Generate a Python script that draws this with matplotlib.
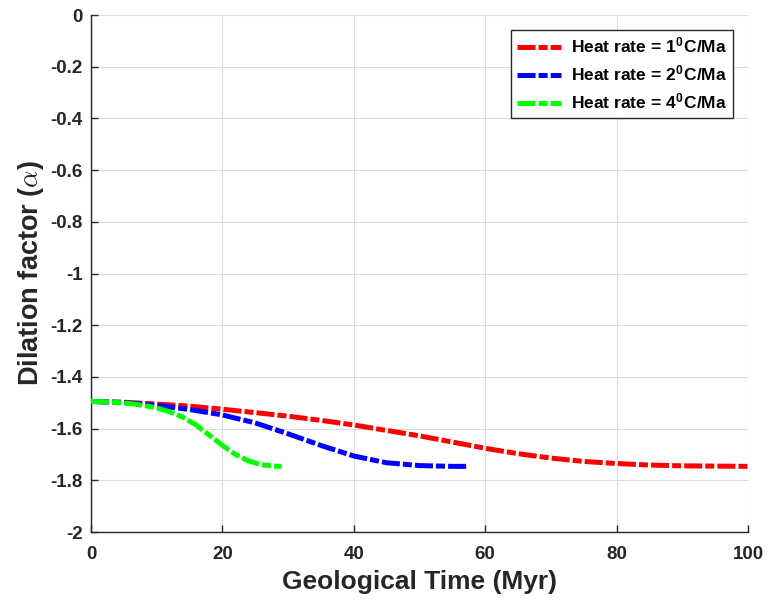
import matplotlib
matplotlib.use('Agg')
import matplotlib.pyplot as plt

# dilation factor vs geological time for three heating rates
t_1 = [0, 5, 10, 15, 20, 25, 30, 35, 40, 45, 50, 55, 60, 65, 70, 75, 80, 85, 90, 95, 100]
a_1 = [-1.495, -1.498, -1.505, -1.513, -1.525, -1.538, -1.552, -1.568, -1.586, -1.607,
       -1.628, -1.652, -1.676, -1.697, -1.714, -1.727, -1.735, -1.741, -1.744, -1.745, -1.746]

t_2 = [0, 5, 10, 15, 20, 25, 30, 35, 40, 45, 50, 55, 57.5]
a_2 = [-1.495, -1.499, -1.510, -1.526, -1.547, -1.578, -1.620, -1.665, -1.706, -1.732,
       -1.743, -1.746, -1.746]

t_4 = [0, 2, 4, 6, 8, 10, 12, 14, 16, 18, 20, 22, 24, 26, 28, 29]
a_4 = [-1.495, -1.496, -1.499, -1.503, -1.510, -1.520, -1.535, -1.556, -1.586, -1.625,
       -1.665, -1.700, -1.725, -1.740, -1.745, -1.746]

labels = ['Heat rate = 1$^0$C/Ma', 'Heat rate = 2$^0$C/Ma', 'Heat rate = 4$^0$C/Ma']
colors = ['#ff0000', '#0000ff', '#00ff00']

xticks = [0, 20, 40, 60, 80, 100]
yticks = [-2, -1.8, -1.6, -1.4, -1.2, -1, -0.8, -0.6, -0.4, -0.2, 0]
ytick_labels = ['-2', '-1.8', '-1.6', '-1.4', '-1.2', '-1', '-0.8', '-0.6', '-0.4', '-0.2', '0']

plt.rcParams['font.family'] = 'Liberation Sans'
plt.rcParams['font.weight'] = 'bold'
plt.rcParams['mathtext.fontset'] = 'custom'
plt.rcParams['mathtext.rm'] = 'Liberation Sans:bold'
plt.rcParams['mathtext.bf'] = 'Liberation Sans:bold'
plt.rcParams['mathtext.it'] = 'cmmi10'

fig = plt.figure(figsize=(7.75, 6), dpi=100)
ax = fig.add_axes([0.1174, 0.1133, 0.8477, 0.8617])

# long dash / short dash, thick line
lw = 3.6
dash = (0, (13 / lw, 2.2 / lw, 6.5 / lw, 2.2 / lw))

for t, a, lab, c in zip([t_1, t_2, t_4], [a_1, a_2, a_4], labels, colors):
    ax.plot(t, a, linestyle=dash, color=c, linewidth=lw, label=lab, zorder=3)

ax.set_xlim(0, 100)
ax.set_ylim(-2, 0)
ax.set_xticks(xticks)
ax.set_xticklabels([str(x) for x in xticks])
ax.set_yticks(yticks)
ax.set_yticklabels(ytick_labels)

ax.grid(True, color='#dcdcdc', linewidth=0.8)
ax.set_axisbelow(True)
for side in ['top', 'right']:
    ax.spines[side].set_visible(False)
for side in ['left', 'bottom']:
    ax.spines[side].set_color('#262626')
    ax.spines[side].set_linewidth(1)
ax.tick_params(direction='in', length=5, width=1, color='#262626',
               labelsize=13.5, labelcolor='#262626')
ax.tick_params(axis='x', pad=10)
ax.tick_params(axis='y', pad=6)
for lbl in ax.get_xticklabels() + ax.get_yticklabels():
    lbl.set_fontweight('bold')

ax.set_xlabel('Geological Time (Myr)', fontsize=19, fontweight='bold', color='#262626',
              labelpad=5)
ax.set_ylabel(r'Dilation factor ($\alpha$)', fontsize=19.5, fontweight='bold', color='#262626',
              labelpad=3)

leg = ax.legend(loc='upper right', fontsize=12.5, handlelength=2.5, handletextpad=0.6,
                borderaxespad=0.85, borderpad=0.35, labelspacing=0.45, fancybox=False,
                framealpha=1, edgecolor='#262626')
leg.get_frame().set_linewidth(1)
for txt in leg.get_texts():
    txt.set_fontweight('bold')

fig.savefig('out.png', dpi=100)
